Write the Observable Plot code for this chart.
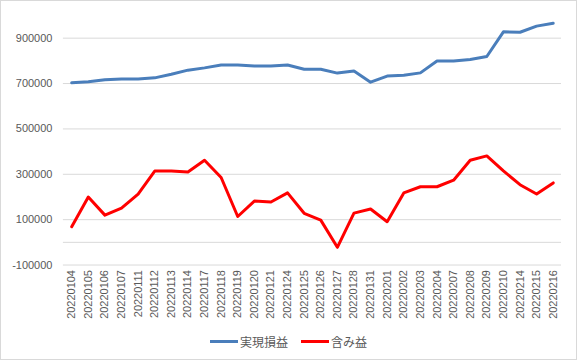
<!DOCTYPE html>
<html>
<head>
<meta charset="utf-8">
<script src="https://cdn.jsdelivr.net/npm/d3@7"></script>
<script src="https://cdn.jsdelivr.net/npm/@observablehq/plot@0.6"></script>
<style>
  html, body { margin: 0; padding: 0; background: #fff; }
  #frame { width: 577px; height: 360px; box-sizing: border-box; border: 1px solid #d9d9d9; position: relative; overflow: hidden; font-family: "Liberation Sans", Arial, sans-serif; }
  #chart { position: absolute; left: -1px; top: -1px; }
  #legend { position: absolute; left: 0; right: 0; top: 332px; display: flex; justify-content: center; gap: 13px; font-size: 12px; color: #595959; font-family: "Noto Sans CJK JP", sans-serif; }
  .item { display: flex; align-items: center; gap: 2px; }
  .sw { width: 28px; height: 3px; display: inline-block; }
</style>
</head>
<body>
<div id="frame">
  <div id="chart"></div>
  <div id="legend"></div>
</div>
<script>
const dates = ["20220104","20220105","20220106","20220107","20220111","20220112","20220113","20220114","20220117","20220118","20220119","20220120","20220121","20220124","20220125","20220126","20220127","20220128","20220131","20220201","20220202","20220203","20220204","20220207","20220208","20220209","20220210","20220214","20220215","20220216"];
const realized = [703000,708000,717000,720000,720000,725000,741000,759000,769000,782000,782000,777000,777000,782000,763000,763000,746000,755000,706000,733000,737000,747000,799000,799000,806000,819000,928000,926000,953000,966000];
const unrealized = [69000,200000,120000,151000,213000,314000,314000,310000,362000,286000,114000,182000,178000,218000,128000,98000,-22000,129000,147000,91000,218000,245000,245000,274000,362000,381000,315000,254000,213000,262000];
const yTicks = [-100000,100000,300000,500000,700000,900000];
const seriesNames = ["実現損益","含み益"];
const colors = ["#4a7ebb","#ff0000"];

const rows = [];
dates.forEach((d,i) => {
  rows.push({idx: i, date: d, value: realized[i], series: seriesNames[0]});
  rows.push({idx: i, date: d, value: unrealized[i], series: seriesNames[1]});
});
const idxTicks = dates.map((d,i) => i);

const chart = Plot.plot({
  width: 577,
  height: 331,
  marginLeft: 63,
  marginRight: 15,
  marginTop: 15,
  marginBottom: 66,
  style: {fontFamily: "'Liberation Sans', Arial, sans-serif", fontSize: "11px", color: "#595959", background: "transparent"},
  x: {type: "linear", domain: [-0.5, dates.length - 0.5], label: null},
  y: {domain: [-100000, 1000000], label: null},
  color: {domain: seriesNames, range: colors},
  marks: [
    Plot.ruleY(yTicks, {stroke: "#d9d9d9", strokeWidth: 1}),
    Plot.ruleY([0], {stroke: "#d9d9d9", strokeWidth: 1}),
    Plot.axisY(yTicks, {tickSize: 0, tickPadding: 11, label: null, tickFormat: d => String(d), fontSize: 11, fill: "#595959"}),
    Plot.axisX(idxTicks, {tickSize: 0, tickPadding: 5, tickRotate: -90, label: null, tickFormat: i => dates[i], fontSize: 11, fill: "#595959"}),
    Plot.line(rows, {x: "idx", y: "value", z: "series", stroke: "series", strokeWidth: 3, strokeLinejoin: "round", strokeLinecap: "round"})
  ]
});
document.getElementById("chart").appendChild(chart);

const legend = document.getElementById("legend");
seriesNames.forEach((n,i) => {
  const it = document.createElement("div");
  it.className = "item";
  const sw = document.createElement("span");
  sw.className = "sw";
  sw.style.background = colors[i];
  const t = document.createElement("span");
  t.textContent = n;
  it.appendChild(sw); it.appendChild(t);
  legend.appendChild(it);
});
</script>
</body>
</html>
